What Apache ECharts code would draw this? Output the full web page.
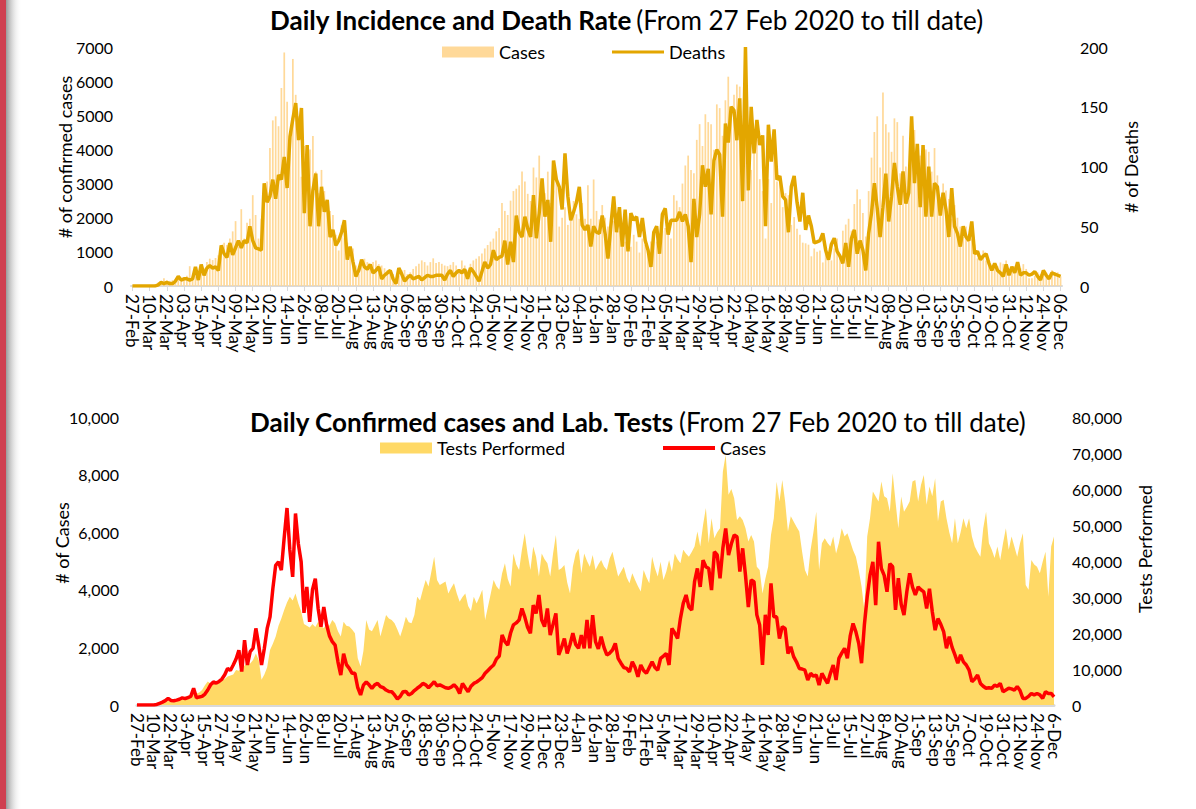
<!DOCTYPE html>
<html>
<head>
<meta charset="utf-8">
<title>Daily Incidence and Death Rate</title>
<script src="https://cdn.jsdelivr.net/npm/echarts@6.0.0/dist/echarts.min.js"></script>
<style>
  html, body { margin: 0; padding: 0; background: #fff; }
  #main { width: 1196px; height: 809px; }
</style>
</head>
<body>
<div id="main"></div>
<script>
// values, one every 2nd day starting 27 Feb 2020
const startDay = Date.UTC(2020, 1, 27);
const stepDays = 2;
const monthNames = ['Jan', 'Feb', 'Mar', 'Apr', 'May', 'Jun', 'Jul', 'Aug', 'Sep', 'Oct', 'Nov', 'Dec'];

const cases = [
  0, 0, 0, 0, 0, 0,
  0, 20, 60, 100, 150, 230,
  160, 150, 170, 200, 250, 220,
  260, 300, 580, 250, 280, 300,
  380, 520, 700, 800, 760, 820,
  900, 1050, 1270, 1200, 1390, 1600,
  1900, 1160, 2250, 1390, 1850, 1970,
  2660, 2080, 1390, 1970, 2660, 3060,
  4040, 4850, 4970, 4680, 5800, 6840,
  5400, 4450, 6650, 5600, 4970, 3200,
  4100, 2890, 4000, 4390, 3350, 2720,
  3400, 2780, 2400, 2200, 2080, 1500,
  1040, 1780, 1400, 1270, 1100, 1100,
  600, 350, 690, 800, 700, 580,
  700, 750, 640, 600, 520, 470,
  460, 350, 210, 300, 460, 470,
  350, 400, 500, 580, 650, 750,
  700, 600, 700, 810, 670, 700,
  650, 600, 580, 620, 700, 600,
  400, 750, 600, 460, 650, 750,
  800, 870, 950, 1100, 1200, 1300,
  1390, 1600, 1700, 2430, 2200, 2080,
  2500, 2780, 2850, 2950, 3350, 3060,
  2700, 2490, 3470, 3180, 3820, 2950,
  2720, 3350, 2430, 2800, 3180, 1740,
  2000, 2310, 1790, 2100, 2490, 2100,
  1970, 2430, 1970, 2950, 1970, 3120,
  2200, 1950, 2370, 2000, 1740, 1800,
  1910, 2140, 1620, 1450, 1300, 1270,
  1150, 1500, 1300, 980, 1390, 1200,
  1100, 1300, 1500, 1300, 1210, 1620,
  1700, 1790, 1390, 2660, 2500, 2310,
  3000, 3530, 3820, 3400, 3300, 4280,
  4740, 4100, 5030, 4800, 4740, 3990,
  5320, 5210, 4400, 5440, 6130, 5210,
  5600, 5900, 5840, 4630, 5440, 4500,
  3400, 4340, 4280, 3130, 2780, 1390,
  3130, 2430, 4220, 3060, 3060, 2310,
  2720, 2660, 1790, 2020, 1680, 1500,
  1270, 1250, 1210, 870, 1100, 1000,
  1040, 690, 1100, 920, 750, 1100,
  1390, 870, 1620, 1800, 1970, 1620,
  2400, 2830, 2540, 2140, 1450, 2780,
  3760, 4510, 4970, 3470, 5670, 4740,
  4500, 3930, 4910, 4800, 3300, 4400,
  3500, 3120, 3930, 4570, 4100, 3820,
  4100, 4000, 3930, 3350, 4040, 3240,
  2600, 3000, 2800, 2550, 1970, 2370,
  2000, 1740, 1450, 1740, 1500, 1390,
  1210, 810, 900, 1040, 750, 650,
  580, 600, 580, 690, 650, 750,
  460, 520, 580, 560, 520, 640,
  500, 230, 230, 300, 400, 350,
  400, 350, 230, 460, 400, 400,
  280
];

const deaths = [
  0, 0, 0, 0, 0, 0,
  0, 0, 0, 1, 3, 2,
  3, 2, 2, 4, 8, 5,
  6, 6, 5, 6, 16, 5,
  18, 9, 15, 17, 15, 16,
  13, 34, 27, 24, 36, 26,
  32, 38, 32, 38, 36, 50,
  38, 32, 31, 30, 86, 70,
  75, 89, 73, 93, 89, 108,
  82, 125, 140, 153, 122, 149,
  61, 118, 50, 80, 94, 50,
  83, 62, 72, 41, 47, 34,
  38, 45, 55, 22, 33, 20,
  8, 13, 22, 16, 14, 18,
  11, 13, 16, 6, 9, 11,
  13, 6, 2, 15, 10, 4,
  7, 9, 6, 7, 8, 5,
  7, 9, 8, 8, 9, 9,
  9, 5, 10, 13, 8, 11,
  13, 11, 14, 6, 15, 12,
  8, 4, 12, 20, 15, 18,
  30, 22, 24, 25, 38, 18,
  37, 20, 59, 45, 41, 58,
  48, 41, 76, 40, 61, 90,
  58, 72, 37, 105, 89, 83,
  64, 111, 75, 55, 62, 70,
  83, 51, 47, 51, 33, 50,
  45, 44, 59, 44, 23, 50,
  75, 45, 66, 33, 64, 29,
  61, 55, 58, 41, 57, 38,
  30, 16, 45, 50, 27, 60,
  65, 43, 55, 55, 55, 62,
  54, 60, 50, 20, 73, 41,
  60, 101, 83, 98, 60, 105,
  114, 110, 58, 136, 120, 150,
  147, 122, 157, 71, 200, 80,
  150, 111, 139, 118, 126, 50,
  135, 104, 131, 89, 92, 75,
  72, 45, 83, 92, 70, 54,
  78, 47, 59, 50, 36, 37,
  38, 44, 30, 22, 35, 40,
  29, 25, 19, 36, 16, 40,
  47, 27, 38, 30, 13, 44,
  61, 86, 65, 41, 66, 94,
  54, 75, 103, 83, 68, 96,
  69, 78, 142, 86, 119, 66,
  118, 58, 100, 58, 86, 83,
  59, 78, 64, 41, 82, 50,
  44, 33, 50, 41, 38, 54,
  27, 29, 22, 25, 27, 19,
  13, 19, 13, 11, 8, 18,
  9, 16, 11, 20, 9, 11,
  11, 9, 10, 12, 8, 5,
  13, 9, 6, 11, 10, 9,
  8
];

const tests = [
  0, 0, 100, 150, 200, 250,
  300, 400, 500, 700, 900, 1100,
  1300, 1500, 1700, 2000, 2100, 2300,
  2500, 2300, 3000, 3200, 3500, 4200,
  5500, 6500, 6000, 6000, 6200, 6500,
  6900, 7200, 7900, 8200, 8500, 9700,
  9500, 10200, 11000, 11600, 11500, 12500,
  14300, 12500, 7000, 8500, 10500, 15300,
  17000, 19000, 22000, 24000, 26400, 28500,
  30100, 29000, 31000, 28200, 26000, 22500,
  22000, 21500, 22500, 21700, 23100, 22000,
  21300, 22700, 22000, 23600, 22700, 20500,
  19000, 23100, 22000, 21800, 21000, 19900,
  13000, 10700, 15000, 23600, 21000, 20500,
  22000, 23600, 19000, 22000, 25000, 24000,
  23600, 22700, 21000, 19000, 21500, 24500,
  23000, 22700, 25000, 30100, 29000, 32000,
  34700, 32900, 37000, 41200, 34700, 33300,
  33800, 34300, 31000, 32500, 33800, 31000,
  28700, 30000, 31000, 27500, 26100, 30100,
  28200, 30000, 32000, 23600, 27300, 31000,
  34700, 33000, 32000, 36600, 39400, 35000,
  32900, 42100, 39000, 37500, 43100, 47700,
  42000, 37500, 44000, 41200, 35700, 42100,
  40500, 39400, 35700, 42000, 47200, 37500,
  38000, 38900, 34000, 31000, 38400, 42000,
  43500, 36600, 42100, 40000, 38400, 41700,
  37500, 39000, 40300, 38500, 37500, 40700,
  42600, 39000, 35700, 37000, 38400, 35500,
  33800, 36600, 34700, 33000, 31500, 37500,
  35500, 33800, 41200, 38000, 35700, 39800,
  34700, 37000, 40300, 37000, 42100, 40500,
  39400, 43100, 42000, 41200, 42500, 44000,
  48200, 44000, 50000, 54700, 44900, 51900,
  46300, 48000, 49100, 64800, 69500, 58400,
  60000, 57400, 51400, 52400, 51400, 49100,
  45400, 47200, 45400, 38400, 37500, 31000,
  35000, 38400, 47200, 51900, 62000, 56500,
  62500, 56500, 48200, 52400, 51000, 49500,
  48200, 42600, 37500, 35700, 43100, 48000,
  53700, 37500, 44900, 46300, 45000, 44000,
  46800, 42100, 45000, 49100, 46800, 47700,
  45400, 43000, 41200, 37500, 32900, 26400,
  46800, 51900, 59300, 57900, 56500, 62100,
  58000, 57400, 53700, 64400, 56500, 49100,
  57900, 53700, 55000, 56500, 62100, 62500,
  56500, 61100, 63900, 55600, 60700, 58000,
  63000, 51000, 56500, 57000, 51900, 48000,
  44900, 51900, 44900, 48000, 51900, 49100,
  51900, 46800, 44000, 42500, 41200, 49100,
  53700, 44900, 43100, 40800, 44000, 40300,
  45000, 49100, 43100, 46800, 44000, 41200,
  44900, 47700, 33300, 32000, 40300, 39000,
  38400, 36600, 39800, 42600, 30100, 44000,
  46800
];

// category labels: every sample is 2 days apart, one label per 12 days
const dates = cases.map((v, i) => new Date(startDay + i * stepDays * 86400000));
const topLabels = dates.map(d => String(d.getUTCDate()).padStart(2, '0') + '-' + monthNames[d.getUTCMonth()]);
const bottomLabels = dates.map(d => d.getUTCDate() + '-' + monthNames[d.getUTCMonth()]);

const FONT = 'Lato';
const withCommas = v => String(v).replace(/\B(?=(\d{3})+(?!\d))/g, ',');

const chart = echarts.init(document.getElementById('main'), null, { renderer: 'svg' });

const xLabel = {
  interval: 5,
  rotate: -90,
  fontSize: 17,
  color: '#000',
  fontFamily: FONT,
  margin: 8
};
const yLabel = { fontSize: 16, color: '#000', fontFamily: FONT, margin: 18 };
const titleRich = {
  b: { fontSize: 26, fontWeight: 'bold', color: '#000', fontFamily: FONT },
  n: { fontSize: 26, fontWeight: 'normal', color: '#000', fontFamily: FONT }
};
const legendText = { fontSize: 18, color: '#000', fontFamily: FONT };

chart.setOption({
  backgroundColor: '#fff',
  animation: false,
  textStyle: { fontFamily: FONT },
  title: [
    {
      text: '{b|Daily Incidence and Death Rate} {n|(From 27 Feb 2020 to till date)}',
      left: 265,
      top: 2,
      textStyle: { rich: titleRich }
    },
    {
      text: '{b|Daily Confirmed cases and Lab. Tests} {n|(From 27 Feb 2020 to till date)}',
      left: 245,
      top: 404,
      textStyle: { rich: titleRich }
    }
  ],
  legend: [
    { left: 437, top: 38, itemWidth: 52, itemHeight: 11, textStyle: legendText,
      data: [{ name: 'Cases', icon: 'rect' }] },
    { left: 607, top: 38, itemWidth: 52, itemHeight: 3, textStyle: legendText,
      data: [{ name: 'Deaths', icon: 'rect' }] },
    { left: 375, top: 434, itemWidth: 52, itemHeight: 11, textStyle: legendText,
      data: [{ name: 'Tests Performed', icon: 'rect' }] },
    { left: 658, top: 434, itemWidth: 52, itemHeight: 4, textStyle: legendText,
      formatter: () => 'Cases',
      data: [{ name: 'Daily cases', icon: 'rect' }] }
  ],
  grid: [
    { left: 131, top: 47, width: 931, height: 239 },
    { left: 137, top: 417, width: 917, height: 288 }
  ],
  xAxis: [
    {
      type: 'category',
      gridIndex: 0,
      data: topLabels,
      boundaryGap: true,
      axisLine: { lineStyle: { color: '#d9d9d9', width: 2 } },
      axisTick: { show: true, interval: 5, alignWithLabel: true, length: 5, lineStyle: { color: '#d9d9d9' } },
      axisLabel: xLabel
    },
    {
      type: 'category',
      gridIndex: 1,
      data: bottomLabels,
      boundaryGap: false,
      axisLine: { lineStyle: { color: '#d9d9d9', width: 3 } },
      axisTick: { show: false },
      axisLabel: xLabel
    }
  ],
  yAxis: [
    {
      type: 'value', gridIndex: 0, position: 'left', min: 0, max: 7000, interval: 1000,
      splitLine: { show: false }, axisLine: { show: false }, axisTick: { show: false },
      axisLabel: Object.assign({}, yLabel, { formatter: v => String(v) })
    },
    {
      type: 'value', gridIndex: 0, position: 'right', min: 0, max: 200, interval: 50,
      splitLine: { show: false }, axisLine: { show: false }, axisTick: { show: false },
      axisLabel: Object.assign({}, yLabel, { formatter: v => String(v) })
    },
    {
      type: 'value', gridIndex: 1, position: 'left', min: 0, max: 10000, interval: 2000,
      splitLine: { show: false }, axisLine: { show: false }, axisTick: { show: false },
      axisLabel: Object.assign({}, yLabel, { formatter: withCommas })
    },
    {
      type: 'value', gridIndex: 1, position: 'right', min: 0, max: 80000, interval: 10000,
      splitLine: { show: false }, axisLine: { show: false }, axisTick: { show: false },
      axisLabel: Object.assign({}, yLabel, { formatter: withCommas })
    }
  ],
  graphic: [
    // red page edge with its shadow
    {
      type: 'rect', left: 0, top: 0, z: 100,
      shape: { width: 6, height: 809 },
      style: { fill: '#cf4050' }
    },
    {
      type: 'rect', left: 6, top: 0, z: 100,
      shape: { width: 16, height: 809 },
      style: {
        fill: new echarts.graphic.LinearGradient(0, 0, 1, 0, [
          { offset: 0, color: 'rgba(120,120,120,0.75)' },
          { offset: 1, color: 'rgba(255,255,255,0)' }
        ])
      }
    },
    { type: 'text', x: 65, y: 157, rotation: Math.PI / 2,
      style: { text: '# of confirmed cases', fontSize: 18, fontFamily: FONT, fill: '#000', align: 'center', verticalAlign: 'middle' } },
    { type: 'text', x: 1131, y: 167, rotation: Math.PI / 2,
      style: { text: '# of Deaths', fontSize: 18, fontFamily: FONT, fill: '#000', align: 'center', verticalAlign: 'middle' } },
    { type: 'text', x: 62, y: 543, rotation: Math.PI / 2,
      style: { text: '# of Cases', fontSize: 18, fontFamily: FONT, fill: '#000', align: 'center', verticalAlign: 'middle' } },
    { type: 'text', x: 1145, y: 549, rotation: Math.PI / 2,
      style: { text: 'Tests Performed', fontSize: 18, fontFamily: FONT, fill: '#000', align: 'center', verticalAlign: 'middle' } }
  ],
  series: [
    {
      name: 'Cases',
      type: 'bar',
      xAxisIndex: 0,
      yAxisIndex: 0,
      data: cases,
      barCategoryGap: '40%',
      itemStyle: { color: '#ffd999' }
    },
    {
      name: 'Deaths',
      type: 'line',
      xAxisIndex: 0,
      yAxisIndex: 1,
      data: deaths,
      symbol: 'none',
      color: '#e3a600',
      lineStyle: { color: '#e3a600', width: 3.5 },
      z: 5
    },
    {
      name: 'Tests Performed',
      type: 'line',
      xAxisIndex: 1,
      yAxisIndex: 3,
      data: tests,
      symbol: 'none',
      color: '#ffd966',
      lineStyle: { width: 0 },
      areaStyle: { color: '#ffd966', opacity: 1 }
    },
    {
      name: 'Daily cases',
      type: 'line',
      xAxisIndex: 1,
      yAxisIndex: 2,
      data: cases,
      symbol: 'none',
      color: '#ff0000',
      lineStyle: { color: '#ff0000', width: 3.5 },
      z: 5
    }
  ]
});
</script>
</body>
</html>
